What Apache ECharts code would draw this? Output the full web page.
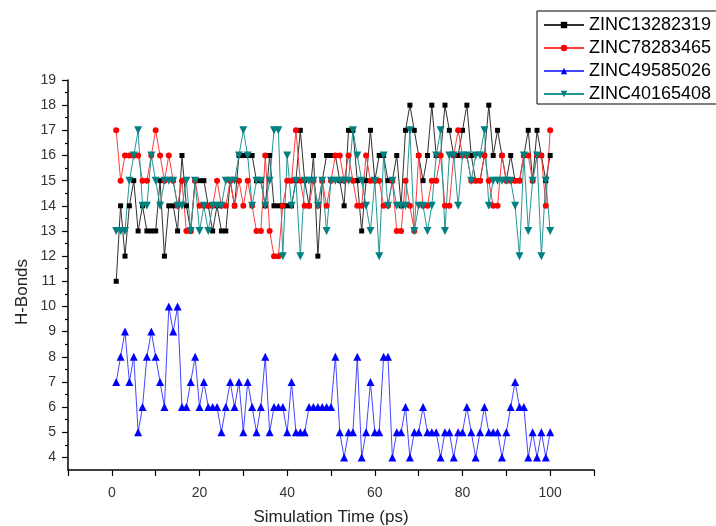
<!DOCTYPE html>
<html>
<head>
<meta charset="utf-8">
<script src="https://cdn.jsdelivr.net/npm/echarts@6/dist/echarts.min.js"></script>
<style>
  html, body { margin: 0; padding: 0; background: #fff; }
  #chart { width: 716px; height: 526px; }
</style>
</head>
<body>
<div id="chart"></div>
<script>
// Simulation time points (ps)
const timePs = Array.from({ length: 100 }, (_, i) => i + 1);

// H-bond counts per ligand over the trajectory
const zinc13282319 = [11,14,12,14,15,13,14,13,13,13,15,12,14,14,13,16,14,13,15,15,
  15,14,13,14,13,13,15,14,16,16,16,16,15,15,14,16,14,14,14,14,
  14,15,17,15,14,16,12,15,16,16,16,15,14,17,17,15,13,15,17,15,
  16,16,15,15,16,14,17,18,17,16,15,16,18,16,16,18,17,16,16,17,
  18,16,15,15,16,18,16,17,16,15,16,15,15,16,17,15,17,16,15,16];

const zinc78283465 = [17,15,16,16,16,16,15,15,16,17,16,15,16,15,14,15,13,13,15,14,
  14,14,14,15,14,14,15,14,15,14,15,14,13,13,16,13,12,12,14,15,
  15,17,15,14,14,15,14,15,14,15,16,16,15,16,15,14,14,16,15,15,
  15,14,14,15,13,13,15,14,13,16,14,14,15,15,16,14,14,16,17,16,
  16,15,15,15,16,15,14,14,16,15,15,15,15,16,16,15,16,16,14,17];

const zinc49585026 = [7,8,9,7,8,5,6,8,9,8,7,6,10,9,10,6,6,7,8,6,
  7,6,6,6,5,6,7,6,7,5,7,6,5,6,8,5,6,6,6,5,
  7,5,5,5,6,6,6,6,6,6,8,5,4,5,5,8,4,5,7,5,
  5,8,8,4,5,5,6,4,5,5,6,5,5,5,4,5,5,4,5,5,
  6,5,4,5,6,5,5,5,4,5,6,7,6,6,4,5,4,5,4,5];

const zinc40165408 = [13,13,13,15,16,17,14,14,16,15,14,15,15,15,14,14,15,13,15,13,
  14,13,14,14,14,15,15,15,16,17,16,14,15,15,14,15,17,17,12,16,
  14,15,12,15,15,15,14,15,13,15,15,15,15,15,17,16,15,14,13,15,
  12,16,14,15,14,14,14,17,13,14,14,13,14,16,17,13,16,16,14,16,
  16,15,16,16,17,14,15,15,15,15,15,14,12,16,13,15,16,12,15,13];

// Axis tick values
const xTickLabels = [0, 20, 40, 60, 80, 100];
const yMajorTicks = [4,5,6,7,8,9,10,11,12,13,14,15,16,17,18,19];
const yMinorTicks = yMajorTicks.slice(0, -1).map(v => v + 0.5);

const seriesDefs = [
  { name: 'ZINC13282319', values: zinc13282319, color: '#000000', line: '#303030', symbol: 'rect', size: 5 },
  { name: 'ZINC78283465', values: zinc78283465, color: '#ff0000', line: '#ff3c3c', symbol: 'circle', size: 6 },
  { name: 'ZINC49585026', values: zinc49585026, color: '#0000ff', line: '#4646ff', symbol: 'triangle', size: 8 },
  { name: 'ZINC40165408', values: zinc40165408, color: '#008080', line: '#249696', symbol: 'triangle', size: 8, rotate: 180 }
];

const font = '"Liberation Sans", Arial, sans-serif';

const chart = echarts.init(document.getElementById('chart'), null, { renderer: 'canvas' });

chart.setOption({
  animation: false,
  backgroundColor: '#ffffff',
  grid: { left: 68, right: 122, top: 80, bottom: 56, containLabel: false, outerBoundsMode: 'none' },
  legend: {
    orient: 'vertical',
    left: 537,
    top: 11,
    padding: [5, 20, 1, 6],
    itemGap: 5,
    itemWidth: 40,
    itemHeight: 8,
    borderColor: '#000',
    borderWidth: 1,
    textStyle: { fontFamily: font, fontSize: 18, color: '#000' },
    data: seriesDefs.map(s => s.name)
  },
  xAxis: {
    type: 'value',
    min: -10,
    max: 110,
    interval: 10,
    name: 'Simulation Time (ps)',
    nameLocation: 'middle',
    nameGap: 39,
    nameTextStyle: { fontFamily: font, fontSize: 17, color: '#222' },
    axisLine: { show: true, onZero: false, lineStyle: { color: '#000', width: 1.5 } },
    axisTick: { show: true, inside: false, length: 6, lineStyle: { color: '#000', width: 1.2 } },
    axisLabel: {
      fontFamily: font, fontSize: 14, color: '#333', margin: 16,
      formatter: v => (xTickLabels.includes(v) ? String(v) : '')
    },
    splitLine: { show: false }
  },
  yAxis: [
    {
      type: 'value',
      min: 3.5,
      max: 19,
      position: 'left',
      axisLine: { show: true, onZero: false, lineStyle: { color: '#000', width: 1.5 } },
      axisTick: { show: true, inside: false, length: 6, customValues: yMajorTicks, lineStyle: { color: '#000', width: 1.2 } },
      axisLabel: { fontFamily: font, fontSize: 14, color: '#333', margin: 12, customValues: yMajorTicks },
      splitLine: { show: false }
    },
    {
      type: 'value',
      min: 3.5,
      max: 19,
      position: 'left',
      offset: 0,
      axisLine: { show: false, onZero: false },
      axisTick: { show: true, inside: false, length: 3, customValues: yMinorTicks, lineStyle: { color: '#000', width: 1.2 } },
      axisLabel: { show: false },
      splitLine: { show: false }
    }
  ],
  graphic: [
    {
      type: 'text',
      x: 22,
      y: 292,
      rotation: Math.PI / 2,
      style: {
        text: 'H-Bonds',
        fontFamily: font,
        fontSize: 17,
        fill: '#222',
        align: 'center',
        verticalAlign: 'middle'
      }
    }
  ],
  series: seriesDefs.map(s => ({
    name: s.name,
    type: 'line',
    yAxisIndex: 0,
    data: timePs.map((t, i) => [t, s.values[i]]),
    symbol: s.symbol,
    symbolSize: s.size,
    symbolRotate: s.rotate || 0,
    showAllSymbol: true,
    lineStyle: { color: s.line, width: 1 },
    itemStyle: { color: s.color },
    emphasis: { disabled: true }
  }))
});
</script>
</body>
</html>
